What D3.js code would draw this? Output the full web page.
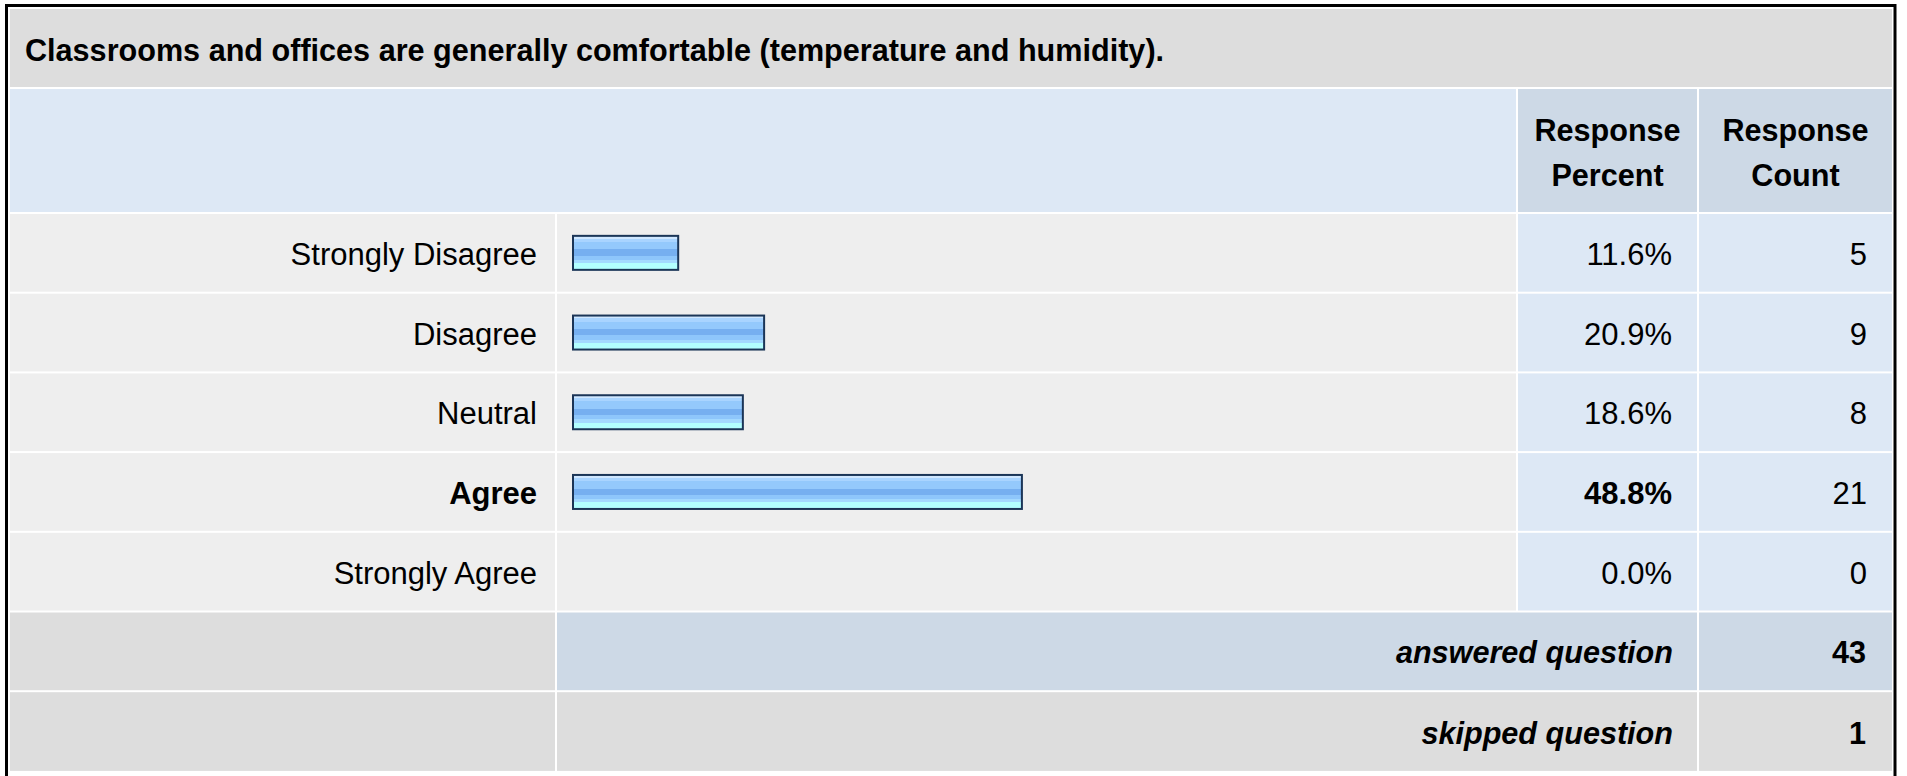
<!DOCTYPE html>
<html>
<head>
<meta charset="utf-8">
<script src="https://cdn.jsdelivr.net/npm/d3@7"></script>
<style>
  html, body { margin: 0; padding: 0; background: #ffffff; }
  svg { display: block; }
  text { font-family: "Liberation Sans", Arial, Helvetica, sans-serif; fill: #000; }
</style>
</head>
<body>
<svg id="chart" width="1907" height="776"></svg>
<script>
// ---- data ----
const title = "Classrooms and offices are generally comfortable (temperature and humidity).";
const categories = ["Strongly Disagree", "Disagree", "Neutral", "Agree", "Strongly Agree"];
const percents = [11.6, 20.9, 18.6, 48.8, 0.0];
const counts = [5, 9, 8, 21, 0];
const headerLabels = [["Response", "Percent"], ["Response", "Count"]];
const summaryLabels = ["answered question", "skipped question"];
const summaryValues = [43, 1];

// ---- layout ----
const svg = d3.select("#chart");
const W = 1907, H = 776;

const colLabel = [10, 555], colBar = [557, 1516], colPct = [1518, 1697], colCnt = [1699, 1892];
const titleBand = [9, 87], headerBand = [89, 212];
const rowTop0 = 214, rowPitch = 79.7, gap = 2;

const FS = 31, FS_TITLE = 30.6;
const colors = {
  titleBg: "#dddddd", headBg: "#dde8f5", headCol: "#cdd9e6",
  rowBg: "#eeeeee", valBg: "#dde8f5", sumBg: "#dddddd", sumBlue: "#cdd9e6",
  frame: "#000000", barStroke: "#1b3557"
};

// gradient for bars
const defs = svg.append("defs");
const grad = defs.append("linearGradient").attr("id", "barGrad")
  .attr("x1", 0).attr("y1", 0).attr("x2", 0).attr("y2", 1);
const stops = [
  [0.00, "#cfe7ff"], [0.08, "#cfe7ff"], [0.08, "#a9d4ff"], [0.18, "#a9d4ff"],
  [0.18, "#94c9fc"], [0.40, "#94c9fc"], [0.40, "#76aff0"], [0.58, "#76aff0"],
  [0.58, "#8ec6fb"], [0.71, "#8ec6fb"], [0.71, "#a3d9ff"], [0.81, "#a3d9ff"],
  [0.81, "#b2ffff"], [1.00, "#b2ffff"]
];
stops.forEach(s => grad.append("stop").attr("offset", s[0]).attr("stop-color", s[1]));

// frame
svg.append("rect").attr("x", 6.5).attr("y", 5.5).attr("width", 1895 - 6.5).attr("height", H + 20)
  .attr("fill", "none").attr("stroke", colors.frame).attr("stroke-width", 3);

function cell(x0, x1, y0, y1, fill) {
  svg.append("rect").attr("x", x0).attr("y", y0).attr("width", x1 - x0).attr("height", y1 - y0).attr("fill", fill);
}

// title band
cell(colLabel[0], colCnt[1], titleBand[0], titleBand[1], colors.titleBg);
svg.append("text").attr("x", 25).attr("y", 61).attr("font-size", FS_TITLE).attr("font-weight", "bold").text(title);

// header band
cell(colLabel[0], colBar[1], headerBand[0], headerBand[1], colors.headBg);
[colPct, colCnt].forEach((c, i) => {
  cell(c[0], c[1], headerBand[0], headerBand[1], colors.headCol);
  const t = svg.append("text").attr("x", (c[0] + c[1]) / 2).attr("text-anchor", "middle")
    .attr("font-size", FS_TITLE).attr("font-weight", "bold");
  t.append("tspan").attr("x", (c[0] + c[1]) / 2).attr("y", 141).text(headerLabels[i][0]);
  t.append("tspan").attr("x", (c[0] + c[1]) / 2).attr("y", 186).text(headerLabels[i][1]);
});

// scales
const allRows = categories.concat(summaryLabels);
const y = d3.scaleBand().domain(allRows)
  .range([rowTop0, rowTop0 + rowPitch * allRows.length])
  .paddingInner(0).paddingOuter(0);
const x = d3.scaleLinear().domain([0, 100]).range([572, 1496]);

const maxPct = d3.max(percents);

categories.forEach((cat, i) => {
  const y0 = y(cat), y1 = y0 + y.bandwidth() - gap, cy = (y0 + y1) / 2;
  cell(colLabel[0], colLabel[1], y0, y1, colors.rowBg);
  cell(colBar[0], colBar[1], y0, y1, colors.rowBg);
  cell(colPct[0], colPct[1], y0, y1, colors.valBg);
  cell(colCnt[0], colCnt[1], y0, y1, colors.valBg);
  const bold = percents[i] === maxPct ? "bold" : "normal";
  svg.append("text").attr("x", 537).attr("y", cy + 12).attr("text-anchor", "end")
    .attr("font-size", FS).attr("font-weight", bold).text(cat);
  svg.append("text").attr("x", 1672).attr("y", cy + 12).attr("text-anchor", "end")
    .attr("font-size", FS).attr("font-weight", bold).text(percents[i].toFixed(1) + "%");
  svg.append("text").attr("x", 1867).attr("y", cy + 12).attr("text-anchor", "end")
    .attr("font-size", FS).text(counts[i]);
  if (percents[i] > 0) {
    const bw = x(percents[i]) - x(0);
    svg.append("rect")
      .attr("x", x(0) + 1).attr("y", cy - 18 + 1)
      .attr("width", bw - 2).attr("height", 36 - 2)
      .attr("fill", "url(#barGrad)")
      .attr("stroke", colors.barStroke).attr("stroke-width", 2);
  }
});

summaryLabels.forEach((lab, i) => {
  const y0 = y(lab), y1 = y0 + y.bandwidth() - gap + (i === 1 ? 1 : 0), cy = (y0 + y1) / 2;
  const midFill = i === 0 ? colors.sumBlue : colors.sumBg;
  cell(colLabel[0], colLabel[1], y0, y1, colors.sumBg);
  cell(colBar[0], colPct[1], y0, y1, midFill);
  cell(colCnt[0], colCnt[1], y0, y1, midFill);
  svg.append("text").attr("x", 1673).attr("y", cy + 12).attr("text-anchor", "end")
    .attr("font-size", FS_TITLE).attr("font-weight", "bold").attr("font-style", "italic").text(lab);
  svg.append("text").attr("x", 1866).attr("y", cy + 12).attr("text-anchor", "end")
    .attr("font-size", FS_TITLE).attr("font-weight", "bold").text(summaryValues[i]);
});
</script>
</body>
</html>
